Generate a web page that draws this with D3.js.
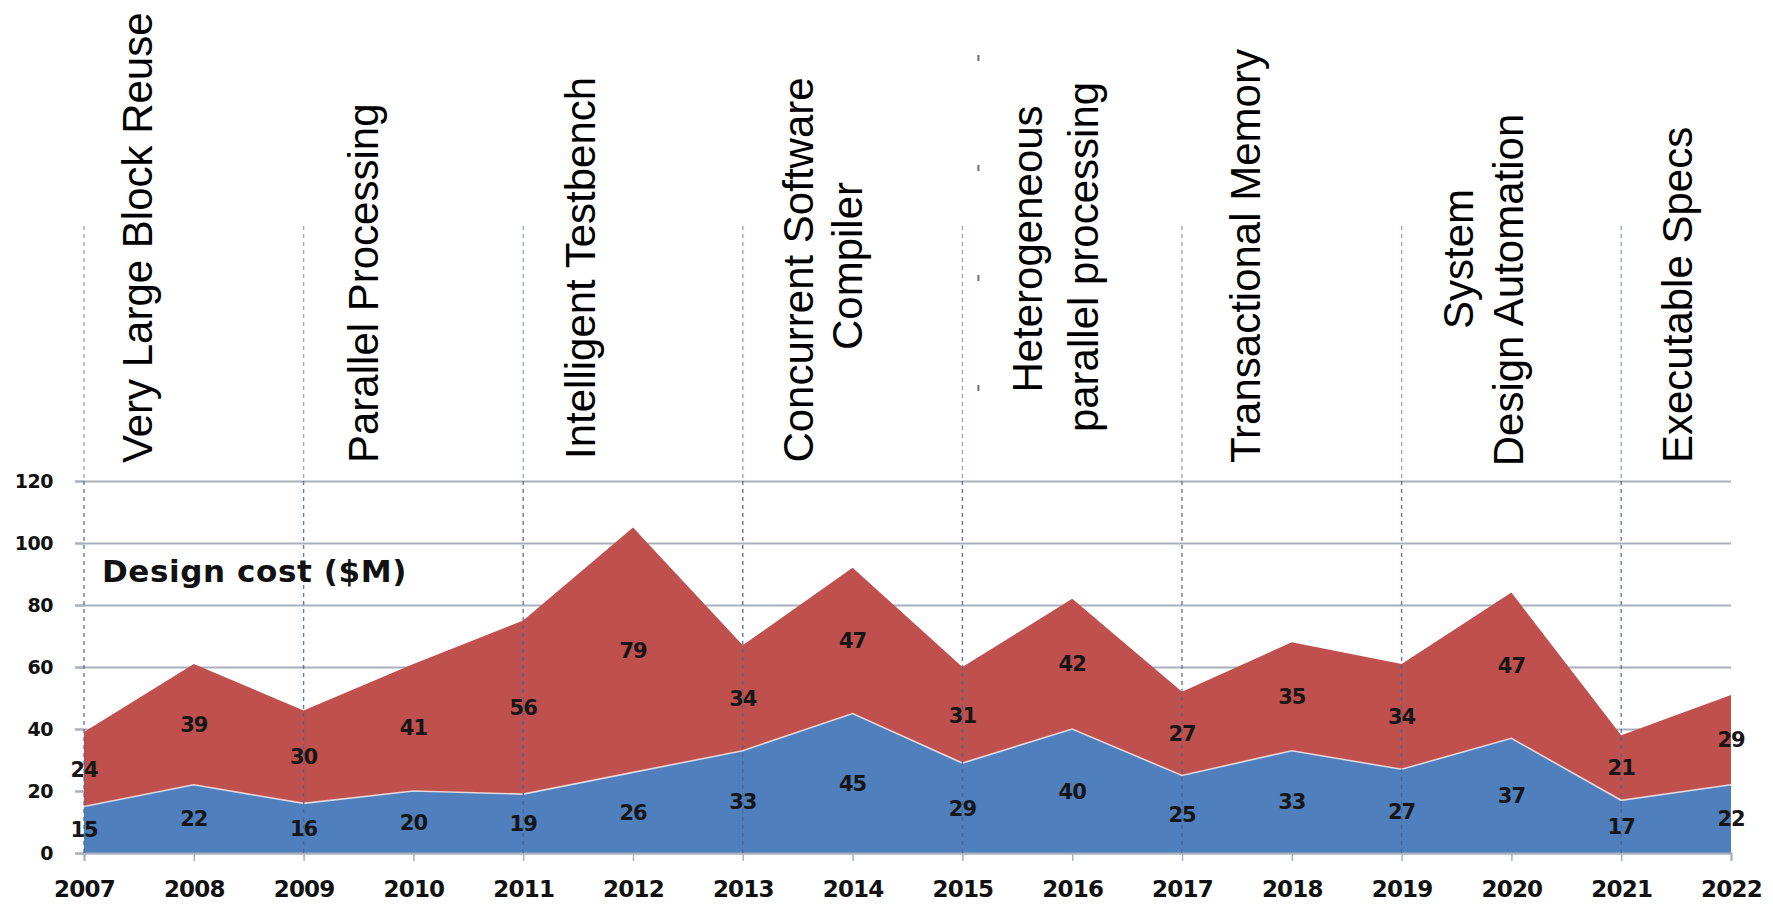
<!DOCTYPE html>
<html>
<head>
<meta charset="utf-8">
<script src="https://cdn.jsdelivr.net/npm/d3@7"></script>
<style>
  body { margin: 0; background: #fff; }
  svg { display: block; }
</style>
</head>
<body>
<div id="chart"></div>
<script>
// ---- data ----
var years = [2007, 2008, 2009, 2010, 2011, 2012, 2013, 2014, 2015, 2016, 2017, 2018, 2019, 2020, 2021, 2022];
var lowerCost = [15, 22, 16, 20, 19, 26, 33, 45, 29, 40, 25, 33, 27, 37, 17, 22];   // blue band
var upperCost = [24, 39, 30, 41, 56, 79, 34, 47, 31, 42, 27, 35, 34, 47, 21, 29];   // red band
var yTicks = [0, 20, 40, 60, 80, 100, 120];
var milestoneYears = [2007, 2009, 2011, 2013, 2015, 2017, 2019, 2021];
var milestoneLabels = [
    ["Very Large Block Reuse"],
    ["Parallel Processing"],
    ["Intelligent Testbench"],
    ["Concurrent Software", "Compiler"],
    ["Heterogeneous", "parallel processing"],
    ["Transactional Memory"],
    ["System", "Design Automation"],
    ["Executable Specs"]
];
var chartTitle = "Design cost ($M)";

// ---- layout ----
var width = 1773, height = 904;
var x0 = 84, x1 = 1731, yBase = 853, yTop = 481;

// per label: anchor + for each line [offset from milestone line, y]
var labelLayout = [
    { anchor: "start",  lines: [[68, 463]] },
    { anchor: "start",  lines: [[74, 463]] },
    { anchor: "start",  lines: [[72, 459]] },
    { anchor: "middle", lines: [[70, 270], [119, 266]] },
    { anchor: "middle", lines: [[80, 249], [136, 257]] },
    { anchor: "start",  lines: [[78, 463]] },
    { anchor: "middle", lines: [[71, 259], [121, 290]] },
    { anchor: "start",  lines: [[71, 463]] }
];

var x = d3.scaleLinear().domain([years[0], years[years.length - 1]]).range([x0, x1]);
var y = d3.scaleLinear().domain([0, 120]).range([yBase, yTop]);

var svg = d3.select("#chart").append("svg")
    .attr("width", width)
    .attr("height", height);

// gridlines (behind the areas)
svg.append("g")
    .attr("class", "grid")
    .attr("transform", "translate(" + (x0 - 9) + ",0)")
    .call(d3.axisRight(y).tickValues(yTicks).tickSize(x1 - x0 + 9).tickFormat(""))
    .call(function (g) { g.select(".domain").remove(); })
    .selectAll("line")
    .attr("stroke", "#a9b0bd")
    .attr("stroke-width", 2);

// stacked areas
var rows = years.map(function (yr, i) {
    return { year: yr, lower: lowerCost[i], upper: upperCost[i] };
});
var stack = d3.stack().keys(["lower", "upper"]);
var series = stack(rows);
var colors = { lower: "#4f7fbc", upper: "#c0504d" };

var area = d3.area()
    .x(function (d) { return x(d.data.year); })
    .y0(function (d) { return y(d[0]); })
    .y1(function (d) { return y(d[1]); });

svg.append("g").selectAll("path")
    .data(series.slice().reverse())
    .join("path")
    .attr("d", area)
    .attr("fill", function (d) { return colors[d.key]; });

// thin light seam on top of the blue band
svg.append("path")
    .datum(series[0])
    .attr("d", d3.line()
        .x(function (d) { return x(d.data.year); })
        .y(function (d) { return y(d[1]); }))
    .attr("fill", "none")
    .attr("stroke", "#f2e6e6")
    .attr("stroke-width", 1.6)
    .attr("opacity", 0.85);

// x axis with small ticks
var xAxis = svg.append("g")
    .attr("transform", "translate(0," + yBase + ")")
    .call(d3.axisBottom(x).tickValues(years).tickSize(8).tickFormat(d3.format("d")));
xAxis.select(".domain").attr("stroke", "#a9b0bd").attr("stroke-width", 2);
xAxis.selectAll("line").attr("stroke", "#a9b0bd").attr("stroke-width", 1.5);
xAxis.selectAll("text")
    .attr("y", 44)
    .attr("dy", 0)
    .attr("fill", "#111")
    .style("font-family", "'DejaVu Sans', sans-serif")
    .style("font-weight", "bold")
    .style("font-size", "23px")
    .style("letter-spacing", "-0.8px");

// y axis labels
var yAxis = svg.append("g")
    .attr("transform", "translate(" + x0 + ",0)")
    .call(d3.axisLeft(y).tickValues(yTicks).tickSize(9).tickPadding(22));
yAxis.select(".domain").remove();
yAxis.selectAll("line").attr("stroke", "#a9b0bd").attr("stroke-width", 2);
yAxis.selectAll("text")
    .attr("fill", "#111")
    .style("font-family", "'DejaVu Sans', sans-serif")
    .style("font-weight", "bold")
    .style("font-size", "19px")
    .style("letter-spacing", "-0.5px");

// dashed milestone lines
svg.append("g").selectAll("line.above")
    .data(milestoneYears)
    .join("line")
    .attr("x1", function (d) { return x(d); })
    .attr("x2", function (d) { return x(d); })
    .attr("y1", 226)
    .attr("y2", yTop)
    .attr("stroke", "#9aa8c0")
    .attr("stroke-width", 1.4)
    .attr("stroke-dasharray", "4,4");

svg.append("g").selectAll("line.inside")
    .data(milestoneYears)
    .join("line")
    .attr("x1", function (d) { return x(d); })
    .attr("x2", function (d) { return x(d); })
    .attr("y1", yTop)
    .attr("y2", yBase)
    .attr("stroke", "#4d6491")
    .attr("stroke-width", 1.4)
    .attr("stroke-dasharray", "4,4")
    .attr("opacity", 0.85);

// stray dark dashes peeking out behind the Heterogeneous text box
svg.append("line")
    .attr("x1", x(2015) + 16).attr("x2", x(2015) + 16)
    .attr("y1", 55).attr("y2", 460)
    .attr("stroke", "#333")
    .attr("stroke-width", 2)
    .attr("stroke-dasharray", "6,104")
    .attr("opacity", 0.7);

// value labels at the middle of each band
var labelFont = "'DejaVu Sans', sans-serif";
series.forEach(function (s) {
    svg.append("g").selectAll("text")
        .data(s)
        .join("text")
        .attr("x", function (d) { return x(d.data.year); })
        .attr("y", function (d) { return y((d[0] + d[1]) / 2); })
        .attr("dy", "0.36em")
        .attr("text-anchor", "middle")
        .attr("fill", "#161616")
        .style("font-family", labelFont)
        .style("font-weight", "bold")
        .style("font-size", "21px")
        .style("letter-spacing", "-1px")
        .text(function (d) { return d.data[s.key]; });
});

// chart title inside plot
svg.append("text")
    .attr("x", 102)
    .attr("y", 582)
    .attr("fill", "#111")
    .style("font-family", labelFont)
    .style("font-weight", "bold")
    .style("font-size", "31px")
    .style("letter-spacing", "0.6px")
    .text(chartTitle);

// rotated milestone labels
milestoneLabels.forEach(function (lines, i) {
    var lay = labelLayout[i];
    var mx = x(milestoneYears[i]);
    lines.forEach(function (txt, j) {
        var p = lay.lines[j];
        svg.append("text")
            .attr("transform", "translate(" + (mx + p[0]) + "," + p[1] + ") rotate(-90)")
            .attr("text-anchor", lay.anchor)
            .attr("fill", "#000")
            .style("font-family", "'Liberation Sans', Arial, sans-serif")
            .style("font-size", "42px")
            .text(txt);
    });
});
</script>
</body>
</html>
